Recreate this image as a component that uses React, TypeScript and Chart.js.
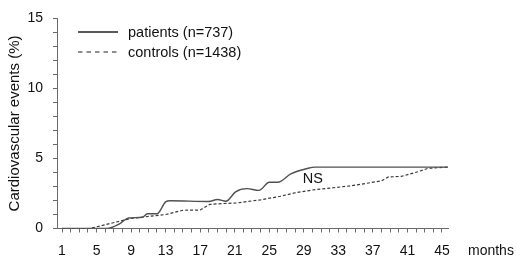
import React, { useEffect, useRef } from "react";
import { Chart, registerables } from "chart.js";

Chart.register(...registerables);

const patientsMonths = [1, 6.2, 7.7, 8.7, 10.3, 10.9, 12, 13, 13.5, 18, 19, 20, 21.1, 22.4, 23.8, 25, 26, 27.5, 29.5, 30.3, 45.7];
const patientsValues = [0, 0, 0.35, 0.75, 0.8, 1.05, 1.05, 1.9, 1.98, 1.93, 2.07, 1.95, 2.62, 2.85, 2.72, 3.3, 3.3, 3.9, 4.3, 4.38, 4.38];

const controlsMonths = [1, 4.2, 9, 13, 15, 17, 18.1, 19.5, 21.2, 24, 26.3, 28, 30, 34.5, 38, 38.8, 40.3, 42.2, 43.4, 45.7];
const controlsValues = [0, 0, 0.72, 1.0, 1.3, 1.32, 1.72, 1.78, 1.82, 2.05, 2.3, 2.55, 2.75, 3.05, 3.4, 3.68, 3.72, 4.05, 4.3, 4.38];

const xTickLabels = [1, 5, 9, 13, 17, 21, 25, 29, 33, 37, 41, 45];
const yTickLabels = [0, 5, 10, 15];

const seriesNames = ["patients (n=737)", "controls (n=1438)"];
const yTitle = "Cardiovascular events (%)";
const xUnit = "months";
const annotationText = "NS";
const annotationAt = { x: 30.05, y: 3.53 };

const FONT = "'Liberation Sans', Arial, sans-serif";
const AXIS = "#6a6a6a";
const TEXT = "#111";

export default function App() {
  const ref = useRef<HTMLCanvasElement>(null);
  useEffect(() => {
    if (!ref.current) return;
    const extras = {
      id: "extras",
      afterDraw(chart: any) {
        const ctx = chart.ctx;
        const xs = chart.scales.x;
        const ys = chart.scales.y;
        ctx.save();
        ctx.font = `14.5px ${FONT}`;
        ctx.fillStyle = TEXT;
        ctx.textBaseline = "middle";
        const rows = [
          { y: 32, dash: [] as number[], color: "#222", w: 1.3 },
          { y: 52, dash: [4.5, 4], color: "#222", w: 1.2 },
        ];
        rows.forEach((r, i) => {
          ctx.beginPath();
          ctx.setLineDash(r.dash);
          ctx.strokeStyle = r.color;
          ctx.lineWidth = r.w;
          ctx.moveTo(78, r.y);
          ctx.lineTo(118, r.y);
          ctx.stroke();
          ctx.setLineDash([]);
          ctx.textAlign = "left";
          ctx.fillText(seriesNames[i], 128, r.y + 1);
        });
        ctx.font = `14px ${FONT}`;
        ctx.textAlign = "left";
        ctx.fillText(xUnit, 468, 251);
        ctx.font = `14.5px ${FONT}`;
        ctx.textAlign = "center";
        ctx.fillText(annotationText, xs.getPixelForValue(annotationAt.x), ys.getPixelForValue(annotationAt.y));
        ctx.restore();
      },
    };
    const chart = new Chart(ref.current, {
      type: "line",
      data: {
        datasets: [
          {
            label: seriesNames[0],
            data: patientsMonths.map((m, i) => ({ x: m, y: patientsValues[i] })),
            borderColor: "#505050",
            borderWidth: 1.4,
            pointRadius: 0,
            cubicInterpolationMode: "monotone",
            fill: false,
          },
          {
            label: seriesNames[1],
            data: controlsMonths.map((m, i) => ({ x: m, y: controlsValues[i] })),
            borderColor: "#3a3a3a",
            borderWidth: 1.2,
            borderDash: [3, 2],
            pointRadius: 0,
            tension: 0,
            fill: false,
          },
        ],
      },
      options: {
        animation: false,
        responsive: false,
        maintainAspectRatio: false,
        layout: { padding: { top: 9.5, right: 72, left: 0, bottom: 0 } },
        plugins: { legend: { display: false }, tooltip: { enabled: false } },
        scales: {
          x: {
            type: "linear",
            min: 0.42,
            max: 45.7,
            afterFit: (s: any) => {
              s.height = 31.5;
            },
            border: { display: true, color: AXIS, width: 1 },
            grid: { drawOnChartArea: false, drawTicks: true, tickLength: 4, color: AXIS },
            ticks: {
              stepSize: 1,
              includeBounds: false,
              autoSkip: false,
              maxRotation: 0,
              minRotation: 0,
              padding: 10,
              color: TEXT,
              font: { family: FONT, size: 14 },
              callback: (v: any) => (xTickLabels.includes(Number(v)) ? String(v) : ""),
            },
          },
          y: {
            min: 0,
            max: 15,
            afterFit: (s: any) => {
              s.width = 57;
            },
            border: { display: true, color: AXIS, width: 1 },
            grid: { drawOnChartArea: false, drawTicks: true, tickLength: 4, color: AXIS },
            title: {
              display: true,
              text: yTitle,
              color: TEXT,
              font: { family: FONT, size: 15 },
              padding: { top: 6, bottom: 4 },
            },
            ticks: {
              stepSize: 1,
              autoSkip: false,
              padding: 10,
              color: TEXT,
              font: { family: FONT, size: 14 },
              callback: (v: any) => (yTickLabels.includes(Number(v)) ? String(v) : ""),
            },
          },
        },
      },
      plugins: [extras],
    } as any);
    return () => chart.destroy();
  }, []);
  return (
    <canvas
      ref={ref}
      width={520}
      height={260}
      style={{ position: "fixed", left: 0, top: 0, width: 520, height: 260, background: "#fff" }}
    />
  );
}
